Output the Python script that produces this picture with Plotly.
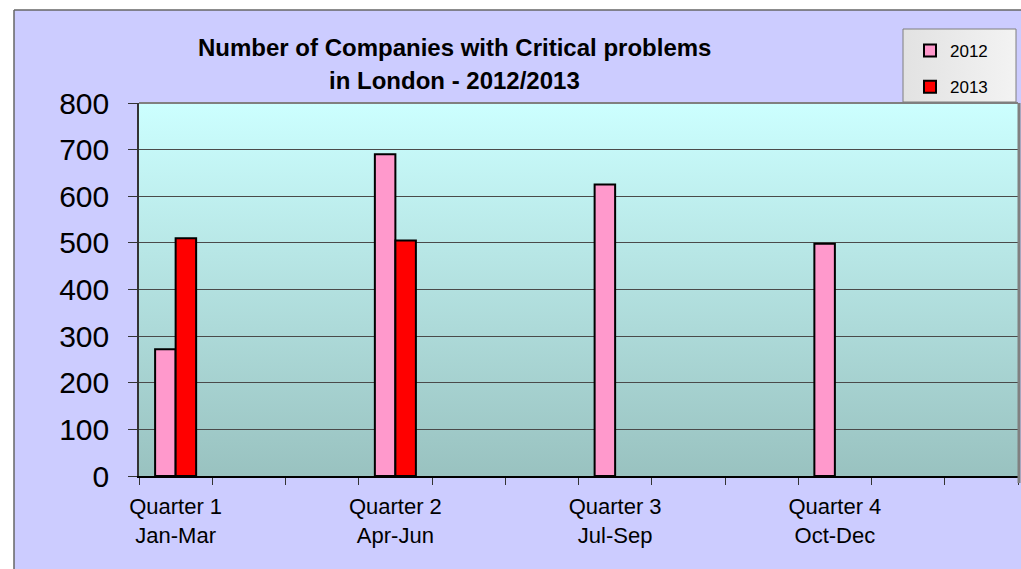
import base64
import plotly.graph_objects as go

# Quarterly counts of companies with critical problems in London
quarters = ["Quarter 1<br>Jan-Mar", "Quarter 2<br>Apr-Jun",
            "Quarter 3<br>Jul-Sep", "Quarter 4<br>Oct-Dec"]
companies_2012 = [272, 690, 625, 498]
companies_2013 = [510, 505, None, None]
y_ticks = [0, 100, 200, 300, 400, 500, 600, 700, 800]
title_lines = ["Number of Companies with Critical problems", "in London - 2012/2013"]

# each quarter occupies one labelled slot followed by two unlabelled ones
slots = []
for i, q in enumerate(quarters):
    slots += [q, " " * (2 * i + 1), " " * (2 * i + 2)]


def svg_uri(svg):
    return "data:image/svg+xml;base64," + base64.b64encode(svg.encode()).decode()


plot_gradient = svg_uri(
    '<svg xmlns="http://www.w3.org/2000/svg" width="10" height="100" preserveAspectRatio="none">'
    '<defs><linearGradient id="g" x1="0" y1="0" x2="0" y2="1">'
    '<stop offset="0" stop-color="#CCFFFF"/><stop offset="1" stop-color="#99C2C0"/>'
    '</linearGradient></defs><rect width="10" height="100" fill="url(#g)"/></svg>'
)
legend_gradient = svg_uri(
    '<svg xmlns="http://www.w3.org/2000/svg" width="100" height="10" preserveAspectRatio="none">'
    '<defs><linearGradient id="g" x1="0" y1="0" x2="1" y2="0">'
    '<stop offset="0" stop-color="#E2E2E2"/><stop offset="1" stop-color="#F3F3F3"/>'
    '</linearGradient></defs><rect width="100" height="10" fill="url(#g)"/></svg>'
)

fig = go.Figure()
fig.add_trace(go.Bar(
    x=quarters, y=companies_2012, name="2012", legendgroup="a",
    marker=dict(color="#FF99CC", line=dict(color="black", width=2)),
))
fig.add_trace(go.Bar(
    x=quarters, y=companies_2013, name="2013", legendgroup="b",
    marker=dict(color="#FF0000", line=dict(color="black", width=2)),
))

W, H = 1021, 569
L, R, T, B = 139, 3, 103, 93
pw, ph = W - L - R, H - T - B


def px(x):
    return (x - L) / pw


def py(y):
    return (H - B - y) / ph


fig.update_layout(
    width=W, height=H,
    margin=dict(l=L, r=R, t=T, b=B, pad=0),
    paper_bgcolor="#CCCCFF",
    plot_bgcolor="rgba(0,0,0,0)",
    barmode="group", bargap=0.44, bargroupgap=0,
    font=dict(family="Liberation Sans, Arial, sans-serif", color="black"),
    showlegend=True,
    legend=dict(
        x=px(910), y=py(33), xanchor="left", yanchor="top",
        bgcolor="rgba(0,0,0,0)", borderwidth=0,
        font=dict(size=17), traceorder="grouped", tracegroupgap=11,
        itemwidth=30,
    ),
    xaxis=dict(
        type="category", categoryorder="array", categoryarray=slots,
        range=[-0.5, len(slots) - 0.5], tickson="boundaries",
        ticks="outside", ticklen=7, tickcolor="#333333", tickwidth=1,
        showline=True, linecolor="black", linewidth=2,
        showgrid=False, tickangle=0, tickfont=dict(size=22),
        ticklabelstandoff=10, fixedrange=True,
    ),
    yaxis=dict(
        range=[0, 800], tickvals=y_ticks,
        ticks="outside", ticklen=9, tickcolor="#333333", tickwidth=1,
        showline=True, linecolor="#333333", linewidth=1.5,
        showgrid=True, gridcolor="#4A4A4A", gridwidth=1.2,
        tickfont=dict(size=30), ticklabelstandoff=13,
        zeroline=False, fixedrange=True,
    ),
    images=[
        dict(source=plot_gradient, xref="paper", yref="paper", x=0, y=1,
             sizex=1, sizey=1, sizing="stretch", layer="below"),
        dict(source=legend_gradient, xref="paper", yref="paper",
             x=px(903), y=py(29), sizex=px(1016) - px(903), sizey=py(29) - py(102),
             sizing="stretch", layer="above"),
    ],
    shapes=[
        # white page margin above and left of the chart area
        dict(type="rect", xref="paper", yref="paper", x0=px(-5), x1=px(1030),
             y0=py(10), y1=py(-5), fillcolor="white", line_width=0, layer="below"),
        dict(type="rect", xref="paper", yref="paper", x0=px(-5), x1=px(14),
             y0=py(580), y1=py(-5), fillcolor="white", line_width=0, layer="below"),
        dict(type="line", xref="paper", yref="paper", x0=px(14), x1=px(1030),
             y0=py(10), y1=py(10), line=dict(color="#666666", width=1.5)),
        dict(type="line", xref="paper", yref="paper", x0=px(14), x1=px(14),
             y0=py(10), y1=py(580), line=dict(color="#666666", width=1.5)),
        # plot area frame: grey top edge and shadowed right edge
        dict(type="line", xref="paper", yref="paper", x0=0, x1=1, y0=1, y1=1,
             line=dict(color="#808080", width=2)),
        dict(type="line", xref="paper", yref="paper", x0=px(1019), x1=px(1019),
             y0=py(483), y1=1, line=dict(color="#808080", width=3)),
        # legend frame
        dict(type="rect", xref="paper", yref="paper", x0=px(903), x1=px(1016),
             y0=py(102), y1=py(29), line=dict(color="#7F7F7F", width=1)),
    ],
    annotations=[
        dict(text="<b>%s</b>" % line, xref="paper", yref="paper",
             x=px(454), y=py(yc), xanchor="center", yanchor="middle",
             showarrow=False, font=dict(size=24, color="black"))
        for line, yc in zip(title_lines, [48, 81])
    ],
)

fig.write_html("out.html")
